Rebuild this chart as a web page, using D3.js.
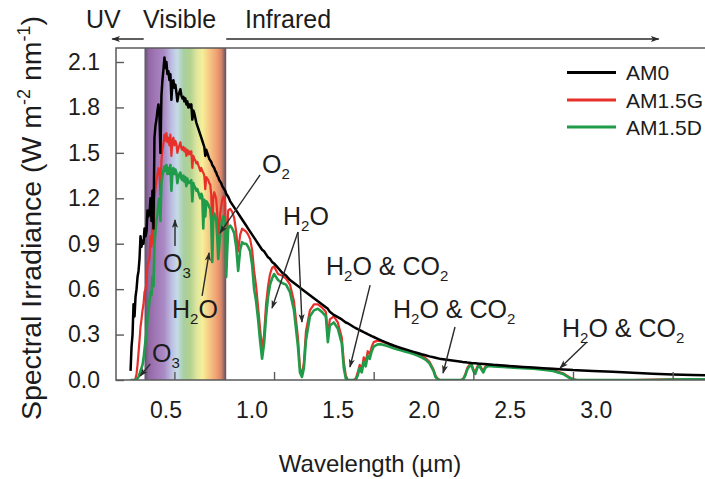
<!DOCTYPE html>
<html><head><meta charset="utf-8">
<script src="https://cdn.jsdelivr.net/npm/d3@7"></script>
<style>
body{margin:0;background:#fff;}
svg{display:block;}
text{font-family:"Liberation Sans",Arial,Helvetica,sans-serif;fill:#1c1c1c;white-space:pre;}
</style>
</head><body>
<svg id="chart" width="705" height="479"></svg>
<script>
// ---------- DATA ----------
const wavelengths = [
0.280,0.285,0.290,0.295,0.300,0.305,0.310,0.315,0.320,0.325,
0.330,0.335,0.340,0.345,0.350,0.355,0.360,0.365,0.370,0.375,
0.380,0.385,0.390,0.395,0.400,0.405,0.410,0.415,0.420,0.425,
0.430,0.435,0.440,0.445,0.450,0.455,0.460,0.465,0.470,0.475,
0.480,0.485,0.490,0.495,0.500,0.505,0.510,0.515,0.520,0.525,
0.530,0.535,0.540,0.545,0.550,0.555,0.560,0.565,0.570,0.575,
0.580,0.585,0.590,0.595,0.600,0.605,0.610,0.615,0.620,0.625,
0.630,0.635,0.640,0.645,0.650,0.655,0.660,0.665,0.670,0.675,
0.680,0.685,0.690,0.695,0.700,0.705,0.710,0.715,0.720,0.725,
0.730,0.735,0.740,0.745,0.750,0.755,0.760,0.765,0.770,0.780,
0.790,0.800,0.810,0.820,0.830,0.840,0.850,0.860,0.870,0.880,
0.890,0.900,0.910,0.920,0.930,0.940,0.950,0.960,0.970,0.980,
0.990,1.000,1.020,1.040,1.060,1.080,1.100,1.120,1.130,1.140,
1.150,1.160,1.180,1.200,1.220,1.240,1.260,1.270,1.280,1.300,
1.320,1.340,1.350,1.360,1.370,1.400,1.410,1.420,1.430,1.440,
1.450,1.460,1.470,1.480,1.490,1.500,1.520,1.540,1.560,1.580,
1.600,1.620,1.640,1.660,1.680,1.700,1.720,1.740,1.760,1.780,
1.800,1.810,1.820,1.830,1.940,1.950,1.960,1.970,1.980,1.990,
2.000,2.010,2.020,2.030,2.040,2.050,2.060,2.070,2.080,2.100,
2.150,2.200,2.250,2.300,2.350,2.400,2.450,2.480,2.500,2.520,
2.600,2.700,2.800,2.900,3.000,3.100,3.200
];
const am0 = [
0.06,0.22,0.30,0.50,0.42,0.55,0.60,0.68,0.72,0.80,
0.95,0.88,0.92,0.90,1.00,0.95,0.98,1.12,1.08,1.10,
1.20,1.05,1.25,1.00,1.60,1.68,1.72,1.78,1.82,1.75,
1.50,1.88,1.98,2.05,2.13,2.06,2.10,2.02,2.04,1.98,
2.02,1.85,1.96,1.98,1.93,1.95,1.90,1.84,1.88,1.90,
1.92,1.88,1.86,1.87,1.84,1.86,1.82,1.84,1.80,1.82,
1.80,1.82,1.72,1.78,1.76,1.73,1.70,1.68,1.66,1.64,
1.62,1.60,1.58,1.56,1.54,1.48,1.52,1.50,1.48,1.46,
1.45,1.44,1.42,1.41,1.40,1.38,1.37,1.35,1.34,1.32,
1.31,1.30,1.28,1.27,1.26,1.25,1.23,1.22,1.21,1.18,
1.16,1.14,1.12,1.10,1.08,1.06,1.04,1.02,1.00,0.98,
0.96,0.94,0.92,0.90,0.88,0.86,0.85,0.83,0.81,0.80,
0.78,0.77,0.74,0.71,0.69,0.66,0.64,0.62,0.61,0.60,
0.59,0.58,0.56,0.54,0.52,0.50,0.48,0.47,0.45,0.43,
0.415,0.40,0.39,0.38,0.375,0.35,0.343,0.336,0.33,0.323,
0.316,0.31,0.303,0.297,0.29,0.284,0.272,0.26,0.249,0.238,
0.228,0.219,0.21,0.202,0.194,0.186,0.178,0.17,0.163,0.156,
0.15,0.147,0.144,0.141,0.12,0.118,0.117,0.115,0.114,0.112,
0.111,0.11,0.109,0.108,0.107,0.106,0.105,0.104,0.103,0.10,
0.095,0.09,0.086,0.082,0.078,0.074,0.07,0.068,0.066,0.065,
0.06,0.054,0.048,0.042,0.037,0.033,0.03
];
const am15g = [
0,0,0,0,0,0.01,0.04,0.10,0.18,0.26,
0.35,0.40,0.46,0.50,0.58,0.60,0.64,0.75,0.78,0.80,
0.95,0.88,1.05,0.90,1.20,1.26,1.32,1.36,1.40,1.38,
1.22,1.45,1.52,1.56,1.62,1.58,1.63,1.57,1.60,1.55,
1.62,1.48,1.58,1.60,1.55,1.58,1.56,1.50,1.53,1.55,
1.57,1.53,1.52,1.54,1.51,1.53,1.48,1.52,1.49,1.51,
1.49,1.51,1.40,1.48,1.46,1.45,1.43,1.44,1.42,1.40,
1.38,1.40,1.38,1.37,1.35,1.26,1.34,1.33,1.32,1.30,
1.29,1.22,0.98,1.20,1.24,1.22,1.19,1.10,0.92,1.02,
1.10,1.15,1.19,1.21,1.20,1.17,0.75,0.95,1.12,1.13,
1.11,1.07,0.98,0.85,0.96,1.00,0.99,0.98,0.96,0.93,
0.86,0.72,0.62,0.48,0.34,0.20,0.30,0.50,0.62,0.70,
0.74,0.75,0.70,0.69,0.67,0.63,0.52,0.28,0.08,0.03,
0.12,0.32,0.46,0.50,0.50,0.48,0.45,0.30,0.40,0.42,
0.38,0.28,0.12,0.03,0,0,0.01,0.05,0.10,0.07,
0.15,0.12,0.19,0.17,0.22,0.25,0.26,0.255,0.245,0.235,
0.225,0.215,0.207,0.198,0.19,0.182,0.172,0.16,0.145,0.12,
0.07,0.03,0.01,0,0,0.01,0.04,0.08,0.10,0.11,
0.07,0.05,0.09,0.105,0.08,0.06,0.09,0.10,0.10,0.098,
0.093,0.088,0.083,0.078,0.073,0.065,0.045,0.02,0.005,0,
0,0,0,0.002,0.004,0.005,0.005
];
const am15d = [
0,0,0,0,0,0,0,0.01,0.02,0.04,
0.06,0.08,0.10,0.14,0.20,0.26,0.32,0.40,0.46,0.52,
0.58,0.56,0.68,0.62,0.90,0.98,1.05,1.10,1.18,1.20,
1.05,1.30,1.35,1.38,1.41,1.38,1.42,1.36,1.40,1.36,
1.42,1.25,1.38,1.40,1.36,1.39,1.37,1.30,1.34,1.36,
1.37,1.33,1.32,1.35,1.31,1.34,1.28,1.33,1.30,1.31,
1.30,1.32,1.18,1.30,1.28,1.27,1.25,1.26,1.24,1.22,
1.20,1.23,1.21,1.00,1.19,1.08,1.18,1.17,1.16,1.14,
1.13,1.05,0.78,1.06,1.10,1.08,1.05,0.95,0.80,0.88,
0.97,1.02,1.06,1.08,1.07,1.04,0.68,0.85,1.00,1.02,
1.00,0.97,0.88,0.72,0.86,0.91,0.90,0.90,0.88,0.85,
0.76,0.60,0.52,0.40,0.26,0.14,0.24,0.42,0.55,0.63,
0.67,0.70,0.66,0.64,0.63,0.58,0.46,0.22,0.05,0.02,
0.08,0.26,0.42,0.46,0.47,0.45,0.42,0.25,0.36,0.38,
0.34,0.24,0.08,0.01,0,0,0,0.03,0.08,0.05,
0.12,0.09,0.16,0.14,0.19,0.22,0.235,0.235,0.228,0.22,
0.21,0.202,0.195,0.186,0.18,0.172,0.162,0.15,0.135,0.11,
0.06,0.02,0.005,0,0,0.005,0.03,0.07,0.09,0.10,
0.06,0.04,0.08,0.095,0.07,0.05,0.08,0.09,0.092,0.09,
0.086,0.082,0.078,0.074,0.068,0.06,0.04,0.015,0.003,0,
0,0,0,0,0.003,0.004,0.004
];
const seriesNames = ["AM0", "AM1.5G", "AM1.5D"];
const seriesColors = ["#000000", "#e8302a", "#1f9b49"];
const xTickValues = [0.5, 1.0, 1.5, 2.0, 2.5, 3.0];
const xTickLabels = ["0.5", "1.0", "1.5", "2.0", "2.5", "3.0"];
const yTickValues = [0, 0.3, 0.6, 0.9, 1.2, 1.5, 1.8, 2.1];
const yTickLabels = ["0.0", "0.3", "0.6", "0.9", "1.2", "1.5", "1.8", "2.1"];
const visibleBand = [0.35, 0.76];
const regionLabels = ["UV", "Visible", "Infrared"];
const annotations = [
  {label:"O_2", at:[0.94,1.367], arrows:[[[0.93,1.354],[0.729,0.971]]]},
  {label:"H_2O", at:[1.045,1.024], arrows:[[[1.12,0.977],[0.99,0.475]],[[1.12,0.977],[1.14,0.383]]]},
  {label:"H_2O & CO_2", at:[1.261,0.693], arrows:[[[1.482,0.627],[1.381,0.086]]]},
  {label:"H_2O & CO_2", at:[1.597,0.409], arrows:[[[1.908,0.35],[1.848,0.046]]]},
  {label:"H_2O & CO_2", at:[2.445,0.284], arrows:[[[2.57,0.251],[2.435,0.079]]]},
  {label:"O_3", at:[0.443,0.713], arrows:[[[0.503,0.885],[0.503,1.057]]]},
  {label:"H_2O", at:[0.488,0.409], arrows:[[[0.639,0.555],[0.674,0.839]]]},
  {label:"O_3", at:[0.388,0.119], arrows:[[[0.379,0.106],[0.328,0.026]]]}
];

// ---------- CHART ----------
const svg = d3.select("#chart");
const plot = {left:116, top:48, bottom:380, right:712.5};
const x = d3.scaleLinear().domain([0.207, 3.2]).range([plot.left, plot.right]);
const xLab = d3.scaleLinear().domain([0.5, 3.0]).range([165.5, 595.7]);
const y = d3.scaleLinear().domain([0, 2.1]).range([380, 62]);

const defs = svg.append("defs");
const grad = defs.append("linearGradient").attr("id","vis").attr("x1","0").attr("x2","1").attr("y1","0").attr("y2","0");
[[0,"#5e5167"],[0.05,"#8f68a3"],[0.12,"#a074b4"],[0.24,"#a98ac4"],[0.33,"#bdbde2"],[0.40,"#c5dbe8"],
 [0.48,"#a9cfa2"],[0.56,"#b2d28e"],[0.64,"#dde6a0"],[0.71,"#f7ef97"],[0.80,"#f5c584"],[0.88,"#f0a172"],
 [0.94,"#d88468"],[1,"#5a5062"]].forEach(s=>grad.append("stop").attr("offset",s[0]).attr("stop-color",s[1]));
defs.append("clipPath").attr("id","clip").append("rect")
  .attr("x",plot.left).attr("y",plot.top).attr("width",plot.right-plot.left).attr("height",plot.bottom-plot.top);
defs.append("marker").attr("id","ah").attr("markerUnits","userSpaceOnUse")
  .attr("viewBox","0 0 10 8").attr("refX",9).attr("refY",4).attr("markerWidth",9).attr("markerHeight",7)
  .attr("orient","auto").append("path").attr("d","M0,0.5 L10,4 L0,7.5 L2.5,4 Z").attr("fill","#2a2a2a");

// visible band
svg.append("rect").attr("x",x(visibleBand[0])).attr("y",plot.top)
  .attr("width",x(visibleBand[1])-x(visibleBand[0])).attr("height",plot.bottom-plot.top)
  .attr("fill","url(#vis)");

// series
const g = svg.append("g").attr("clip-path","url(#clip)");
const seriesData = [am0, am15g, am15d];
const widths = [2.5, 2.2, 2.6];
[1,2,0].forEach(k=>{
  const line = d3.line().x((d,i)=>x(wavelengths[i])).y(d=>y(d));
  g.append("path").datum(seriesData[k]).attr("d",line).attr("fill","none")
    .attr("stroke",seriesColors[k]).attr("stroke-width",widths[k]).attr("stroke-linejoin","round");
});

// frame
svg.append("path").attr("d",`M${plot.right},${plot.top}H${plot.left}V${plot.bottom}H${plot.right}`)
  .attr("fill","none").attr("stroke","#5a5a5a").attr("stroke-width",1.5);

// axes
const FF = '"Liberation Sans",Arial,sans-serif';
const yAx = svg.append("g").attr("transform",`translate(${plot.left},0)`)
  .call(d3.axisLeft(y).tickValues(yTickValues).tickSize(-8).tickPadding(16).tickFormat((d,i)=>yTickLabels[i]));
yAx.select(".domain").remove();
yAx.attr("font-size",23).attr("font-family",FF);
yAx.selectAll("line").attr("stroke","#5a5a5a").attr("stroke-width",1.4);
yAx.selectAll("text").attr("fill","#1c1c1c");

const xAx = svg.append("g").attr("transform",`translate(0,${plot.bottom})`)
  .call(d3.axisBottom(x).tickValues(xTickValues).tickSize(-8).tickFormat(""));
xAx.select(".domain").remove();
xAx.selectAll("line").attr("stroke","#5a5a5a").attr("stroke-width",1.4);

const xLabAx = svg.append("g").attr("transform",`translate(0,${plot.bottom})`)
  .call(d3.axisBottom(xLab).tickValues(xTickValues).tickSize(0).tickPadding(22).tickFormat((d,i)=>xTickLabels[i]));
xLabAx.select(".domain").remove();
xLabAx.attr("font-size",23).attr("font-family",FF);
xLabAx.selectAll("text").attr("fill","#1c1c1c");

// axis titles
svg.append("text").attr("x",370).attr("y",472).attr("text-anchor","middle").attr("font-size",24)
  .text("Wavelength (\u00b5m)");
const yt = svg.append("text").attr("transform","translate(41,218) rotate(-90)").attr("text-anchor","middle").attr("font-size",28.5);
yt.append("tspan").text("Spectral Irradiance (W m");
yt.append("tspan").attr("font-size",18).attr("dy",-11).text("-2");
yt.append("tspan").attr("dy",11).text(" nm");
yt.append("tspan").attr("font-size",18).attr("dy",-11).text("-1");
yt.append("tspan").attr("dy",11).text(")");

// region labels and arrows
const rl = [[86,regionLabels[0]],[143,regionLabels[1]],[245,regionLabels[2]]];
rl.forEach(r=>svg.append("text").attr("x",r[0]).attr("y",28).attr("font-size",25).text(r[1]));
svg.append("line").attr("x1",x(0.346)).attr("x2",x(0.188)).attr("y1",39).attr("y2",39)
  .attr("stroke","#2a2a2a").attr("stroke-width",1.5).attr("marker-end","url(#ah)");
svg.append("line").attr("x1",x(visibleBand[1])).attr("x2",x(2.93)).attr("y1",39).attr("y2",39)
  .attr("stroke","#2a2a2a").attr("stroke-width",1.5).attr("marker-end","url(#ah)");

// legend
const legY = [72.5, 100, 127];
seriesNames.forEach((n,i)=>{
  svg.append("line").attr("x1",567).attr("x2",616).attr("y1",legY[i]).attr("y2",legY[i])
    .attr("stroke",seriesColors[i]).attr("stroke-width",3);
  svg.append("text").attr("x",626).attr("y",legY[i]).attr("dy","0.36em").attr("font-size",21).text(n);
});

// annotations
function richText(sel, str){
  const parts = str.split(/(_\d)/).filter(p=>p.length);
  let lowered = false;
  parts.forEach(p=>{
    if(p[0]==="_"){ sel.append("tspan").attr("font-size",15).attr("dy",6).text(p.slice(1)); lowered = true; }
    else { const t = sel.append("tspan").text(p); if(lowered){ t.attr("dy",-6); lowered=false; } }
  });
}
annotations.forEach(a=>{
  const t = svg.append("text").attr("x",x(a.at[0])).attr("y",y(a.at[1])).attr("font-size",25);
  richText(t, a.label);
  a.arrows.forEach(ar=>{
    svg.append("line").attr("x1",x(ar[0][0])).attr("y1",y(ar[0][1])).attr("x2",x(ar[1][0])).attr("y2",y(ar[1][1]))
      .attr("stroke","#2a2a2a").attr("stroke-width",1.4).attr("marker-end","url(#ah)");
  });
});
</script>
</body></html>
